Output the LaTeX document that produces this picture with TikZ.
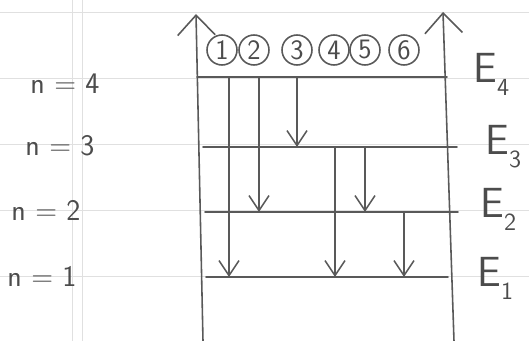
\documentclass[tikz,border=0pt]{standalone}
\usetikzlibrary{arrows.meta,calc}

% energy label with a dropped index
\newcommand{\elev}[1]{E\raisebox{-0.3em}{\fontsize{14}{14}\selectfont #1}}

\begin{document}
\begin{tikzpicture}[
    x=0.02cm, y=-0.02cm,
    font=\sffamily,
    pencil/.style={
        draw=black!65,
        line width=0.9pt,
        line cap=round
    },
    paper/.style={
        draw=black!12,
        line width=0.5pt
    },
    axis/.style={
        pencil,
        -{Straight Barb[length=0.4cm,width=0.75cm]}
    },
    level/.style={
        pencil
    },
    trans/.style={
        pencil,
        -{Straight Barb[length=0.3cm,width=0.4cm]}
    },
    nlabel/.style={
        font=\sffamily\fontsize{17}{20}\selectfont,
        text=black!70
    },
    elabel/.style={
        font=\sffamily\fontsize{24}{28}\selectfont,
        text=black!70,
        anchor=base west,
        inner sep=0pt
    },
    photon/.style={
        circle,
        pencil,
        minimum size=0.6cm,
        inner sep=0pt,
        font=\sffamily\fontsize{16}{16}\selectfont,
        text=black!70
    }
]

\useasboundingbox (0,0) rectangle (529,341);

% Ruled paper
\foreach \y in {12,78,144,210,276} {
    \draw[paper] (0,\y) -- (529,\y);
}
\draw[paper] (72,0) -- (72,341);
\draw[paper] (82,0) -- (82,341);

% Axes
\coordinate (baseL) at (203,341);
\coordinate (topL) at (196,14);
\coordinate (baseR) at (454,341);
\coordinate (topR) at (443,12);
\draw[axis] (baseL) -- (topL);
\draw[axis] (baseR) -- (topR);

% Energy levels
\foreach \n/\xl/\xr/\y in {4/197/447/77, 3/203/457/147, 2/205/458/212, 1/206/448/277} {
    \coordinate (L\n) at (\xl,\y);
    \coordinate (R\n) at (\xr,\y);
    \draw[level] (L\n) -- (R\n);
}

% Level names
\node[nlabel] (n4) at (65,84) {n = 4};
\node[nlabel] (n3) at (60,146) {n = 3};
\node[nlabel] (n2) at (46,210) {n = 2};
\node[nlabel] (n1) at (42,276) {n = 1};

\node[elabel] (e4) at (473,83) {\elev{4}};
\node[elabel] (e3) at (485,155) {\elev{3}};
\node[elabel] (e2) at (480,218) {\elev{2}};
\node[elabel] (e1) at (477,287) {\elev{1}};

% Numbered transitions
\foreach \i/\x in {1/222, 2/254, 3/297, 4/334, 5/365, 6/404} {
    \node[photon] (c\i) at (\x,50) {\i};
}

\foreach \i/\dx/\from/\to in {1/7/4/1, 2/5/4/2, 3/0/4/3, 4/1/3/1, 5/0/3/2, 6/0/2/1} {
    \draw[trans] ($(c\i |- L\from)+(\dx,0)$) -- ($(c\i |- L\to)+(\dx,0)$);
}

\end{tikzpicture}
\end{document}
